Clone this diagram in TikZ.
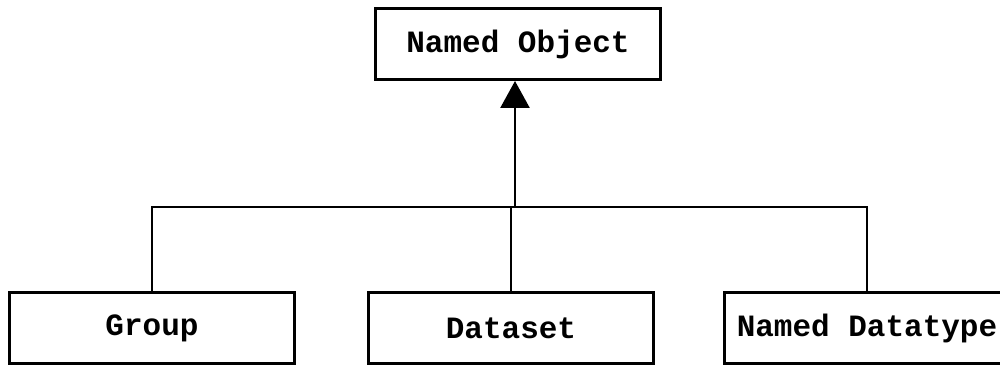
\documentclass[tikz,border=0pt]{standalone}
\usepackage{fontspec}
\setmonofont{Liberation Mono}
\usetikzlibrary{arrows.meta}
\begin{document}
\begin{tikzpicture}[x=1pt,y=-1pt,
    classbox/.style={draw, line width=3pt, minimum width=285pt, minimum height=71pt,
      font=\ttfamily\bfseries\fontsize{31}{36}\selectfont},
    link/.style={line width=2.5pt}]
       \useasboundingbox (0,0) rectangle (1000,366);
       \node[classbox] (nobj) at (518,44) {Named Object};
       \node[classbox] (grp) at (152,328) {Group};
       \node[classbox] (dset) at (511,328) {Dataset};
       \node[classbox] (dtype) at (867,328) {Named Datatype};
       \coordinate (bar) at (515,207);
       \draw[link] (grp.north) |- (bar) -| (dtype.north);
       \draw[link] (dset.north) -- (dset.north |- bar);
       \draw[link,-{Triangle[length=27pt,width=29pt]}] (bar) -- (bar |- nobj.south);
    \end{tikzpicture}
\end{document}
